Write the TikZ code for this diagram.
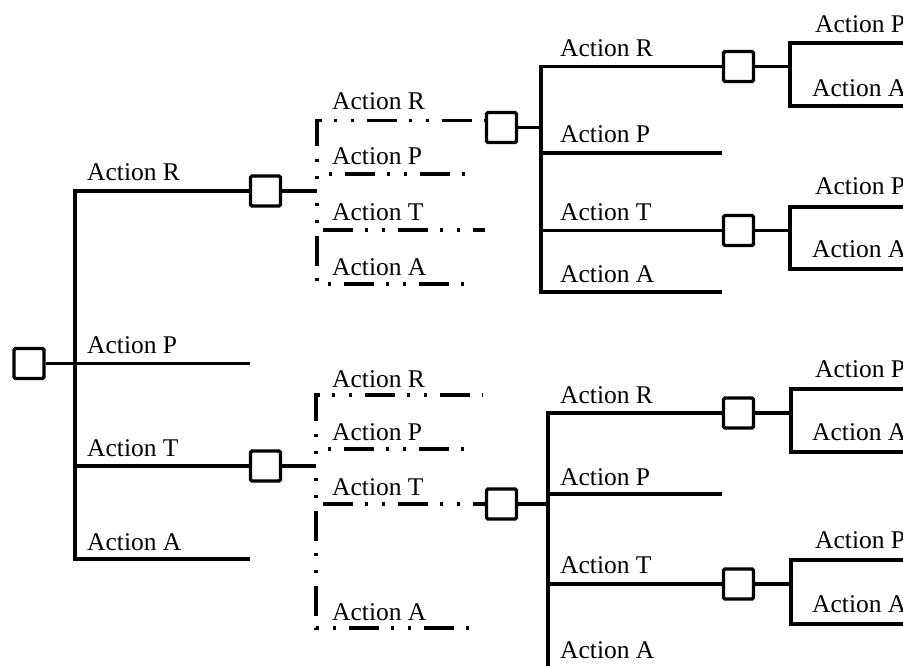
\documentclass[tikz,border=0pt]{standalone}
\usepackage{fontspec}
\setmainfont{Liberation Serif}
\begin{document}
\begin{tikzpicture}[x=1pt,y=-1pt,
  decision/.style={draw, line width=3.4pt, rounded corners=1.5pt, minimum width=30pt,
    minimum height=30pt, inner sep=0pt, fill=white},
  branch/.style={line width=3.2pt},
  optbranch/.style={line width=3.6pt,
    dash pattern=on 30pt off 12pt on 3pt off 14pt on 3pt off 13pt, dash phase=30pt},
  lbl/.style={anchor=base west, inner sep=0pt, font=\fontsize{25.5}{30}\selectfont}]
\useasboundingbox (0,0) rectangle (903,666);
\clip (0,0) rectangle (903,666);

% decision boxes
\node[decision] (root) at (29,363.5) {};
\node[decision] (d1R) at (265.5,191) {};
\node[decision] (d1T) at (265.5,466) {};
\node[decision] (d2U) at (501.5,127.5) {};
\node[decision] (d2L) at (501.5,504) {};
\node[decision] (d3a) at (738.5,66.5) {};
\node[decision] (d3b) at (738.5,230.5) {};
\node[decision] (d3c) at (738.5,413) {};
\node[decision] (d3d) at (738.5,584) {};

% junctions and open branch ends
\coordinate (j0) at (75,363.5);
\coordinate (e0A) at (250,559);
\coordinate (e0P) at (250,363.5);
\coordinate (j1U) at (317,191);
\coordinate (e1UR) at ([yshift=7pt]d2U.west);
\coordinate (e1UP) at (477,174);
\coordinate (e1UT) at (485,230);
\coordinate (e1UA) at (475,284);
\coordinate (j1L) at (316,466);
\coordinate (e1LR) at (483,395);
\coordinate (e1LP) at (477,449);
\coordinate (e1LA) at (480,628);
\coordinate (j2U) at (541,127.5);
\coordinate (e2UP) at (722,153);
\coordinate (e2UA) at (722,292);
\coordinate (j2L) at (548,504);
\coordinate (e2LP) at (722,494);
\coordinate (e2LA) at (722,672);
\coordinate (j3a) at (790,66.5);
\coordinate (e3aP) at (910,43);
\coordinate (e3aA) at (910,106);
\coordinate (j3b) at (790,230.5);
\coordinate (e3bP) at (910,207);
\coordinate (e3bA) at (910,269);
\coordinate (j3c) at (791,413);
\coordinate (e3cP) at (910,389);
\coordinate (e3cA) at (910,452);
\coordinate (j3d) at (791,584);
\coordinate (e3dP) at (910,560);
\coordinate (e3dA) at (910,624);

% first stage
\draw[branch] (root.east) -- (j0);
\draw[branch] (d1R.west) -- (j0 |- d1R) -- (j0 |- e0A) -- (e0A);
\draw[branch] (j0) -- (e0P);
\draw[branch] (j0 |- d1T) -- (d1T.west);

% second stage, upper (optional moves)
\draw[branch] (d1R.east) -- (j1U);
\draw[optbranch] (j1U) -- (j1U |- e1UR) -- (e1UR);
\draw[optbranch] (j1U) -- (j1U |- e1UP) -- (e1UP);
\draw[optbranch] (j1U) -- (j1U |- e1UT) -- (e1UT);
\draw[optbranch] (j1U) -- (j1U |- e1UA) -- (e1UA);

% second stage, lower (optional moves)
\draw[branch] (d1T.east) -- (j1L);
\draw[optbranch] (j1L) -- (j1L |- e1LR) -- (e1LR);
\draw[optbranch] (j1L) -- (j1L |- e1LP) -- (e1LP);
\draw[optbranch] (j1L) -- (j1L |- d2L) -- (d2L.west);
\draw[optbranch] (j1L) -- (j1L |- e1LA) -- (e1LA);

% third stage, upper
\draw[branch] (d2U.east) -- (j2U);
\draw[branch] (d3a.west) -- (j2U |- d3a) -- (j2U |- e2UA) -- (e2UA);
\draw[branch] (j2U |- e2UP) -- (e2UP);
\draw[branch] (j2U |- d3b) -- (d3b.west);

% third stage, lower
\draw[branch] (d2L.east) -- (j2L);
\draw[branch] (d3c.west) -- (j2L |- d3c) -- (j2L |- e2LA) -- (e2LA);
\draw[branch] (j2L |- e2LP) -- (e2LP);
\draw[branch] (j2L |- d3d) -- (d3d.west);

% fourth stage
\draw[branch] (d3a.east) -- (j3a);
\draw[branch] (e3aP) -- (j3a |- e3aP) -- (j3a |- e3aA) -- (e3aA);
\draw[branch] (d3b.east) -- (j3b);
\draw[branch] (e3bP) -- (j3b |- e3bP) -- (j3b |- e3bA) -- (e3bA);
\draw[branch] (d3c.east) -- (j3c);
\draw[branch] (e3cP) -- (j3c |- e3cP) -- (j3c |- e3cA) -- (e3cA);
\draw[branch] (d3d.east) -- (j3d);
\draw[branch] (e3dP) -- (j3d |- e3dP) -- (j3d |- e3dA) -- (e3dA);

% labels
\node[lbl] (l0R) at (87,181) {Action R};
\node[lbl] (l0P) at (87,353) {Action P};
\node[lbl] (l0T) at (87,456) {Action T};
\node[lbl] (l0A) at (87,550) {Action A};

\node[lbl] (l1UR) at (332,110) {Action R};
\node[lbl] (l1UP) at (332,165) {Action P};
\node[lbl] (l1UT) at (332,220) {Action T};
\node[lbl] (l1UA) at (332,275) {Action A};

\node[lbl] (l1LR) at (332,387) {Action R};
\node[lbl] (l1LP) at (332,440) {Action P};
\node[lbl] (l1LT) at (332,495) {Action T};
\node[lbl] (l1LA) at (332,620) {Action A};

\node[lbl] (l2UR) at (560,57) {Action R};
\node[lbl] (l2UP) at (560,143) {Action P};
\node[lbl] (l2UT) at (560,220) {Action T};
\node[lbl] (l2UA) at (560,282) {Action A};

\node[lbl] (l2LR) at (560,403) {Action R};
\node[lbl] (l2LP) at (560,485) {Action P};
\node[lbl] (l2LT) at (560,573) {Action T};
\node[lbl] (l2LA) at (560,658) {Action A};

\node[lbl] (l3aP) at (815,33) {Action P};
\node[lbl] (l3aA) at (812,97) {Action A};
\node[lbl] (l3bP) at (815,195) {Action P};
\node[lbl] (l3bA) at (812,258) {Action A};
\node[lbl] (l3cP) at (815,377) {Action P};
\node[lbl] (l3cA) at (812,440) {Action A};
\node[lbl] (l3dP) at (815,548) {Action P};
\node[lbl] (l3dA) at (812,612) {Action A};
\end{tikzpicture}
\end{document}
